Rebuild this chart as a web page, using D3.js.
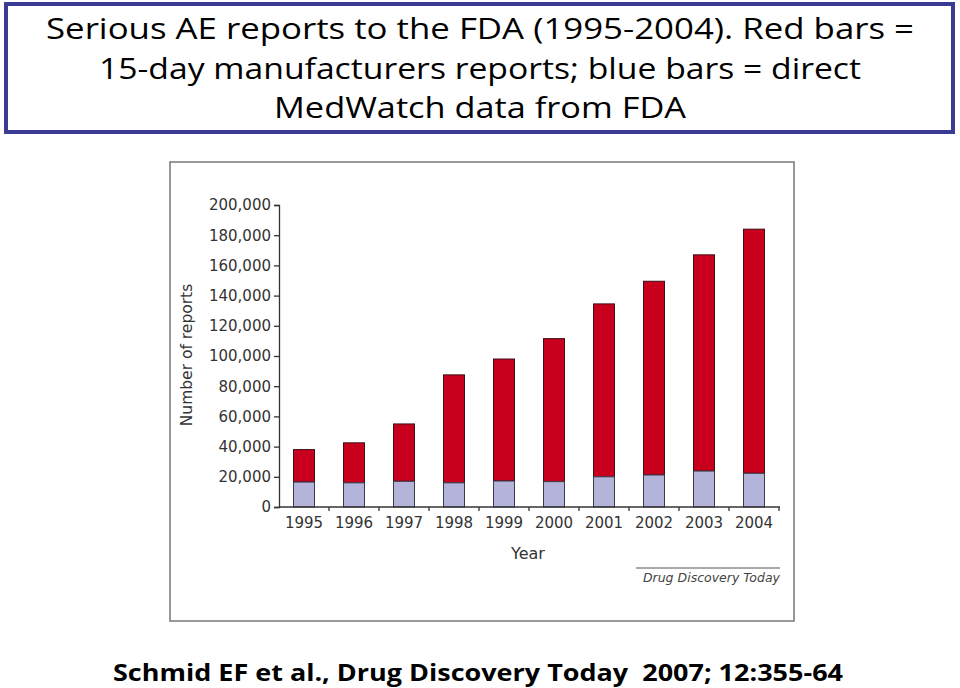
<!DOCTYPE html>
<html>
<head>
<meta charset="utf-8">
<script src="https://cdn.jsdelivr.net/npm/d3@7"></script>
<style>
  body { margin: 0; background: #fff; }
  svg { display: block; }
</style>
</head>
<body>
<div id="chart"></div>
<script>
// values (number of reports)
const years = ["1995", "1996", "1997", "1998", "1999", "2000", "2001", "2002", "2003", "2004"];
const medwatch = [16500, 16000, 17000, 16000, 17200, 16800, 20000, 21200, 23800, 22300];   // blue
const totals = [38000, 42500, 55000, 87500, 98000, 111500, 134500, 149500, 167000, 184000]; // top of red
const yTicks = [0, 20000, 40000, 60000, 80000, 100000, 120000, 140000, 160000, 180000, 200000];
const titleLines = [
  "Serious AE reports to the FDA (1995-2004). Red bars =",
  "15-day manufacturers reports; blue bars = direct",
  "MedWatch data from FDA"
];
const citation = "Schmid EF et al., Drug Discovery Today  2007; 12:355-64";

const W = 960, H = 688;
const svg = d3.select('#chart').append('svg')
  .attr('width', W).attr('height', H);

// title box
svg.append('rect')
  .attr('x', 6).attr('y', 4).attr('width', 947).attr('height', 128)
  .attr('fill', '#fff').attr('stroke', '#3b3b94').attr('stroke-width', 4);

const titleWidths = [868, 762, 412];
svg.selectAll('text.title').data(titleLines).join('text')
  .attr('class', 'title')
  .attr('x', 480).attr('y', (d, i) => 39 + i * 39.5)
  .attr('text-anchor', 'middle')
  .attr('font-family', '"Open Sans", sans-serif')
  .attr('font-size', 30)
  .attr('textLength', (d, i) => titleWidths[i])
  .attr('lengthAdjust', 'spacingAndGlyphs')
  .attr('fill', '#000')
  .text(d => d);

// panel of the figure
svg.append('rect')
  .attr('x', 170).attr('y', 162).attr('width', 624).attr('height', 459)
  .attr('fill', '#fff').attr('stroke', '#777').attr('stroke-width', 1.5);

const x = d3.scaleBand().domain(years).range([279, 779])
  .paddingInner(0.58).paddingOuter(0.29);
const y = d3.scaleLinear().domain([0, 200000]).range([507, 205]);

const font = '"DejaVu Sans", sans-serif';
const ink = '#333';

// y axis
const yAxis = svg.append('g')
  .attr('transform', 'translate(279,0)')
  .call(d3.axisLeft(y).tickValues(yTicks).tickSize(5).tickPadding(3)
    .tickFormat(d3.format(',')));
yAxis.select('.domain').attr('stroke', ink).attr('stroke-width', 1.3);
yAxis.selectAll('.tick line').attr('stroke', ink).attr('stroke-width', 1.3);
yAxis.selectAll('.tick text').attr('font-family', font).attr('font-size', 15)
  .attr('fill', ink);

// bars: blue = MedWatch, red = rest up to total
const g = svg.append('g');
g.selectAll('rect.red').data(years).join('rect')
  .attr('class', 'red')
  .attr('x', d => x(d)).attr('width', x.bandwidth())
  .attr('y', (d, i) => y(totals[i]))
  .attr('height', (d, i) => y(medwatch[i]) - y(totals[i]))
  .attr('fill', '#c8001e').attr('stroke', '#3a1016').attr('stroke-width', 1);
g.selectAll('rect.blue').data(years).join('rect')
  .attr('class', 'blue')
  .attr('x', d => x(d)).attr('width', x.bandwidth())
  .attr('y', (d, i) => y(medwatch[i]))
  .attr('height', (d, i) => y(0) - y(medwatch[i]))
  .attr('fill', '#b4b4da').attr('stroke', '#3a3a4a').attr('stroke-width', 1);

// x axis, ticks sit between the years
const xAxis = svg.append('g').attr('transform', 'translate(0,507)');
xAxis.append('line')
  .attr('x1', 279).attr('x2', 780).attr('stroke', ink).attr('stroke-width', 1.3);
xAxis.selectAll('line.tk').data(years.map(d => x(d) + x.bandwidth() / 2 + x.step() / 2))
  .join('line').attr('class', 'tk')
  .attr('x1', d => d).attr('x2', d => d).attr('y1', 0).attr('y2', 4)
  .attr('stroke', ink).attr('stroke-width', 1.3);
xAxis.selectAll('text').data(years).join('text')
  .attr('x', d => x(d) + x.bandwidth() / 2).attr('y', 21)
  .attr('text-anchor', 'middle')
  .attr('font-family', font).attr('font-size', 15).attr('fill', ink)
  .text(d => d);

// axis titles
svg.append('text')
  .attr('transform', 'translate(192,355) rotate(-90)')
  .attr('text-anchor', 'middle')
  .attr('font-family', font).attr('font-size', 15.5).attr('fill', ink)
  .text('Number of reports');
svg.append('text')
  .attr('x', 528).attr('y', 559).attr('text-anchor', 'middle')
  .attr('font-family', font).attr('font-size', 16).attr('fill', ink)
  .text('Year');

// journal tag
svg.append('line')
  .attr('x1', 636).attr('x2', 780).attr('y1', 568).attr('y2', 568)
  .attr('stroke', '#555').attr('stroke-width', 1);
svg.append('text')
  .attr('x', 780).attr('y', 582).attr('text-anchor', 'end')
  .attr('font-family', font).attr('font-style', 'italic')
  .attr('font-size', 12.5).attr('fill', '#444')
  .text('Drug Discovery Today');

// citation
svg.append('text')
  .attr('x', 478).attr('y', 681).attr('text-anchor', 'middle')
  .attr('font-family', '"Open Sans", sans-serif').attr('font-weight', 'bold')
  .attr('font-size', 24)
  .attr('textLength', 730).attr('lengthAdjust', 'spacingAndGlyphs')
  .style('white-space', 'pre')
  .attr('fill', '#000')
  .text(citation);
</script>
</body>
</html>
